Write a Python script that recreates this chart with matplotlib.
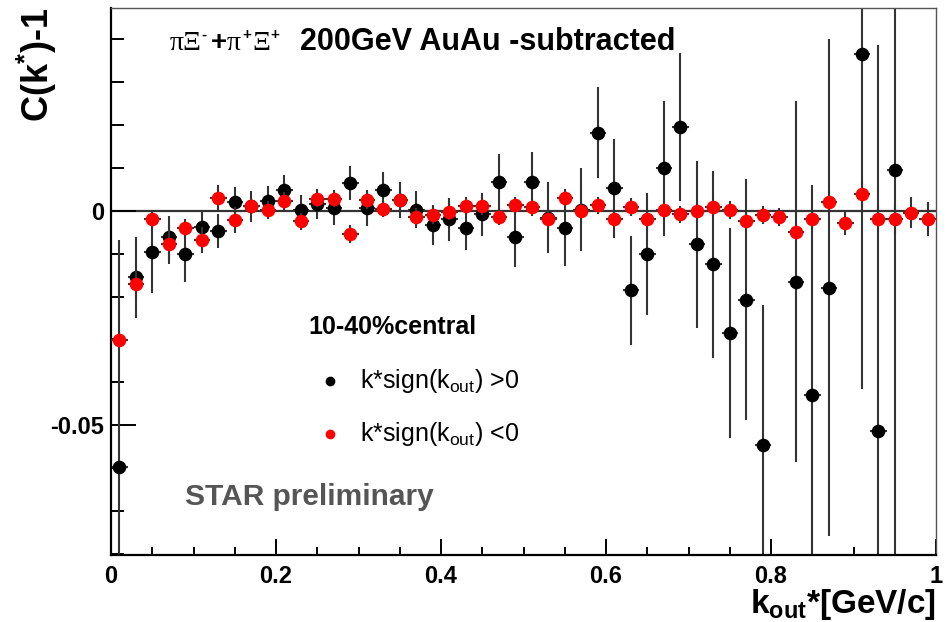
import numpy as np
import matplotlib
matplotlib.use("Agg")
import matplotlib.pyplot as plt
from matplotlib.ticker import MultipleLocator, FixedLocator

plt.rcParams['font.family'] = ['Liberation Sans', 'DejaVu Sans']
plt.rcParams['mathtext.fontset'] = 'custom'
plt.rcParams['mathtext.rm'] = 'Liberation Sans'
plt.rcParams['mathtext.bf'] = 'Liberation Sans:bold'
plt.rcParams['mathtext.it'] = 'Liberation Sans:italic'

W, H = 949, 622

# bin centres, 50 bins of 0.02 GeV/c
k_out = np.arange(0.01, 1.0, 0.02)
bin_half = 0.01

# k* sign(k_out) > 0
pos_val = [-0.0597, -0.0155, -0.0097, -0.0062, -0.0101, -0.0037, -0.0047, 0.0021, 0.0010, 0.0023,
           0.0048, 0.0002, 0.0016, 0.0006, 0.0064, 0.0006, 0.0048, 0.0025, 0.0003, -0.0033,
           -0.0020, -0.0039, -0.0008, 0.0068, -0.0061, 0.0066, -0.0016, -0.0041, 0.0003, 0.0182,
           0.0052, -0.0185, -0.0101, 0.0099, 0.0195, -0.0078, -0.0125, -0.0286, -0.0207, -0.0546,
           np.nan, -0.0165, -0.0430, -0.0179, np.nan, 0.0365, -0.0513, 0.0095, np.nan, np.nan]
pos_err = [0.0530, 0.0095, 0.0094, 0.0050, 0.0066, 0.0040, 0.0040, 0.0035, 0.0035, 0.0035,
           0.0035, 0.0035, 0.0035, 0.0040, 0.0040, 0.0042, 0.0042, 0.0042, 0.0044, 0.0047,
           0.0050, 0.0052, 0.0050, 0.0065, 0.0069, 0.0071, 0.0082, 0.0087, 0.0097, 0.0106,
           0.0115, 0.0127, 0.0143, 0.0157, 0.0173, 0.0195, 0.0218, 0.0245, 0.0280, 0.0326,
           np.nan, 0.0420, 0.0490, 0.0580, np.nan, 0.0780, 0.0900, 0.0950, np.nan, np.nan]

# k* sign(k_out) < 0
neg_val = [-0.0302, -0.0171, -0.0020, -0.0078, -0.0040, -0.0068, 0.0030, -0.0021, 0.0012, 0.0002,
           0.0023, -0.0024, 0.0028, 0.0028, -0.0054, 0.0025, 0.0005, 0.0026, -0.0014, -0.0010,
           -0.0002, 0.0011, 0.0011, -0.0014, 0.0013, 0.0008, -0.0018, 0.0030, 0.0000, 0.0013,
           -0.0018, 0.0009, -0.0018, 0.0003, -0.0008, 0.0000, 0.0008, 0.0002, -0.0023, -0.0010,
           -0.0015, -0.0049, -0.0019, 0.0020, -0.0029, 0.0039, -0.0018, -0.0020, -0.0004, -0.0019]
neg_err = [0.0020, 0.0030, 0.0020, 0.0045, 0.0020, 0.0030, 0.0030, 0.0030, 0.0020, 0.0020,
           0.0020, 0.0020, 0.0020, 0.0020, 0.0020, 0.0020, 0.0020, 0.0020, 0.0020, 0.0020,
           0.0020, 0.0020, 0.0020, 0.0020, 0.0020, 0.0020, 0.0020, 0.0020, 0.0020, 0.0020,
           0.0020, 0.0020, 0.0020, 0.0020, 0.0020, 0.0020, 0.0020, 0.0020, 0.0020, 0.0020,
           0.0021, 0.0020, 0.0022, 0.0025, 0.0028, 0.0030, 0.0030, 0.0035, 0.0037, 0.0039]

fig = plt.figure(figsize=(W / 100, H / 100), dpi=100)
ax = fig.add_axes([0.117, 0.1077, 0.8693, 0.8794])

ax.set_xlim(0, 1)
ax.set_ylim(-0.0803, 0.0473)

# zero line
ax.axhline(0, color='#333333', lw=1.6, zorder=1)

err_kw = dict(fmt='o', ms=9.8, capsize=0, elinewidth=1.5, ecolor='#333333', mec='none')
ax.errorbar(k_out, pos_val, yerr=pos_err, xerr=bin_half, color='black', zorder=2, **err_kw)
ax.errorbar(k_out, neg_val, yerr=neg_err, xerr=bin_half, color='red', zorder=3, **err_kw)

# frame and ticks
for s in ['left', 'bottom']:
    ax.spines[s].set_linewidth(1.6)
    ax.spines[s].set_color('black')
for s in ['top', 'right']:
    ax.spines[s].set_linewidth(1.0)
    ax.spines[s].set_color('#555555')

ax.xaxis.set_major_locator(MultipleLocator(0.2))
ax.xaxis.set_minor_locator(MultipleLocator(0.05))
ax.yaxis.set_major_locator(FixedLocator([-0.05, 0]))
ax.yaxis.set_minor_locator(MultipleLocator(0.01))
ax.xaxis.set_major_formatter(plt.FuncFormatter(lambda v, p: '%g' % round(v, 2)))
ax.yaxis.set_major_formatter(plt.FuncFormatter(lambda v, p: '%g' % round(v, 3)))

ax.tick_params(axis='both', which='both', direction='in', top=False, right=False, width=1.4)
ax.tick_params(axis='x', which='major', length=11.5, pad=7)
ax.tick_params(axis='x', which='minor', length=5.8)
ax.tick_params(axis='y', which='major', length=18, pad=5)
ax.tick_params(axis='y', which='minor', length=9.4)
for lab in ax.get_xticklabels() + ax.get_yticklabels():
    lab.set_fontsize(17)
    lab.set_fontweight('bold')

# axis titles
fig.text(936 / W, 1 - 613 / H, r'k$_{\mathbf{out}}$*[GeV/c]', ha='right', va='baseline',
         fontsize=24, fontweight='bold')
fig.text(37 / W, 1 - 8 / H, r'C(k$^{\mathbf{*}}$)-1', ha='center', va='top',
         rotation=90, fontsize=26, fontweight='bold')


def px_text(x, y, s, **kw):
    # place a text piece by pixel position (baseline)
    return fig.text(x / W, 1 - y / H, s, ha='left', va='baseline', **kw)


# title: pi Xi pairs in a serif face with small superscripts
greek = dict(fontsize=20, family=['Liberation Serif', 'DejaVu Serif'])
sup = dict(fontsize=11, fontweight='bold')
px_text(170, 50, 'πΞ', **greek)
px_text(201, 39, '-', **sup)
px_text(211, 50, '+', fontsize=20, fontweight='bold')
px_text(227, 50, 'π', **greek)
px_text(242, 39, '+', **sup)
px_text(252, 50, 'Ξ', **greek)
px_text(270, 39, '+', **sup)
px_text(300, 50, '200GeV AuAu -subtracted', fontsize=22, fontweight='bold')

# legend
ax.text(0.239, 0.417, '10-40%central', transform=ax.transAxes, ha='left', va='center',
        fontsize=18, fontweight='bold')
ax.plot([0.2655], [0.318], 'o', color='black', ms=7, mec='none', transform=ax.transAxes)
ax.plot([0.2655], [0.2212], 'o', color='red', ms=7, mec='none', transform=ax.transAxes)
ax.text(0.302, 0.318, r'k*sign(k$_{\mathrm{out}}$) >0', transform=ax.transAxes, ha='left',
        va='center', fontsize=18)
ax.text(0.302, 0.2212, r'k*sign(k$_{\mathrm{out}}$) <0', transform=ax.transAxes, ha='left',
        va='center', fontsize=18)

ax.text(0.0897, 0.106, 'STAR preliminary', transform=ax.transAxes, ha='left', va='center',
        fontsize=21.5, fontweight='bold', color='#555555')

fig.savefig('out.png', dpi=100)
